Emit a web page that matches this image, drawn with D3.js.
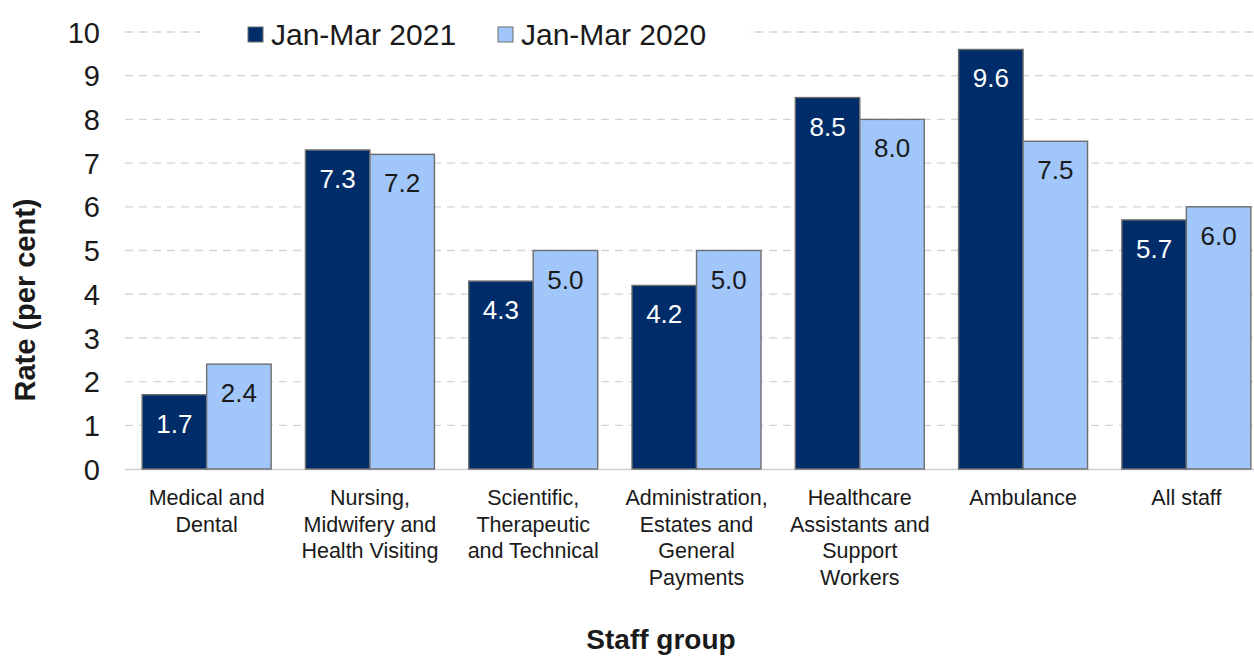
<!DOCTYPE html>
<html><head><meta charset="utf-8">
<script src="https://cdn.jsdelivr.net/npm/d3@7"></script>
<style>
html,body{margin:0;padding:0;background:#fff;}
svg{display:block;font-family:"Liberation Sans",Arial,sans-serif;}
</style></head>
<body>
<svg id="chart" width="1254" height="657"></svg>
<script>
const categories = [
  "Medical and\nDental",
  "Nursing,\nMidwifery and\nHealth Visiting",
  "Scientific,\nTherapeutic\nand Technical",
  "Administration,\nEstates and\nGeneral\nPayments",
  "Healthcare\nAssistants and\nSupport\nWorkers",
  "Ambulance",
  "All staff"
];
const seriesNames = ["Jan-Mar 2021", "Jan-Mar 2020"];
const values2021 = [1.7, 7.3, 4.3, 4.2, 8.5, 9.6, 5.7];
const values2020 = [2.4, 7.2, 5.0, 5.0, 8.0, 7.5, 6.0];
const yTicks = [0,1,2,3,4,5,6,7,8,9,10];
const xTitle = "Staff group";
const yTitle = "Rate (per cent)";

const colors = ["#002D6A", "#A0C6FA"];
const labelColors = ["#ffffff", "#1a1a1a"];

const svg = d3.select("#chart");
const x0 = d3.scaleBand().domain(d3.range(categories.length)).range([125, 1268]).paddingInner(0.21).paddingOuter(0.105);
const x1 = d3.scaleBand().domain([0,1]).range([0, x0.bandwidth()]);
const y = d3.scaleLinear().domain([0,10]).range([469, 32]);

// gridlines
svg.append("g").selectAll("line").data(yTicks.filter(t=>t>0)).join("line")
  .attr("x1",125).attr("x2",1254)
  .attr("y1",d=>y(d)).attr("y2",d=>y(d))
  .attr("stroke","#d4d4d4").attr("stroke-width",1.3).attr("stroke-dasharray","8,6");

// y axis labels
const yAxis = d3.axisLeft(y).tickValues(yTicks).tickSize(0).tickPadding(0).tickFormat(d3.format("d"));
const ya = svg.append("g").attr("transform","translate(100,0)").call(yAxis);
ya.select(".domain").remove();
ya.selectAll("text").attr("font-size",29).attr("fill","#1a1a1a").attr("font-family","Liberation Sans, Arial, sans-serif").attr("dy","0.35em");

// baseline
svg.append("line").attr("x1",125).attr("x2",1254).attr("y1",y(0)+0.5).attr("y2",y(0)+0.5).attr("stroke","#d0d0d0").attr("stroke-width",1.5);

const series = [values2021, values2020];
const groups = svg.append("g").selectAll("g").data(categories).join("g")
  .attr("transform",(d,i)=>`translate(${x0(i)},0)`);

series.forEach((vals, s) => {
  groups.append("rect")
    .attr("x", x1(s)).attr("width", x1.bandwidth())
    .attr("y", (d,i)=>y(vals[i])).attr("height",(d,i)=>y(0)-y(vals[i]))
    .attr("fill", colors[s]).attr("stroke","#6e6e6e").attr("stroke-width",1.4);
  groups.append("text")
    .attr("x", x1(s)+x1.bandwidth()/2)
    .attr("y", (d,i)=>y(vals[i])+38)
    .attr("text-anchor","middle").attr("font-size",26).attr("fill",labelColors[s])
    .text((d,i)=>vals[i].toFixed(1));
});

// x labels
groups.append("text")
  .attr("text-anchor","middle").attr("font-size",21.5).attr("fill","#1a1a1a")
  .attr("transform",`translate(${x0.bandwidth()/2},505)`)
  .selectAll("tspan").data(d=>d.split("\n")).join("tspan")
  .attr("x",0).attr("dy",(d,i)=>i===0?0:26.5).text(d=>d);

// legend
const lg = svg.append("g");
lg.append("rect").attr("x",200).attr("y",14).attr("width",548).attr("height",40).attr("fill","#fff");
const legendX = [248, 498];
seriesNames.forEach((n,i)=>{
  lg.append("rect").attr("x",legendX[i]).attr("y",27).attr("width",15).attr("height",15)
    .attr("fill",colors[i]).attr("stroke","#6e6e6e").attr("stroke-width",1);
  lg.append("text").attr("x",legendX[i]+23).attr("y",45).attr("font-size",30).attr("fill","#1a1a1a").text(n);
});

// axis titles
svg.append("text").attr("x",661).attr("y",649).attr("text-anchor","middle")
  .attr("font-size",28).attr("font-weight","bold").attr("fill","#1a1a1a").text(xTitle);
svg.append("text").attr("transform","translate(35,300) rotate(-90)").attr("text-anchor","middle")
  .attr("font-size",29).attr("font-weight","bold").attr("fill","#1a1a1a").text(yTitle);
</script>
</body></html>
